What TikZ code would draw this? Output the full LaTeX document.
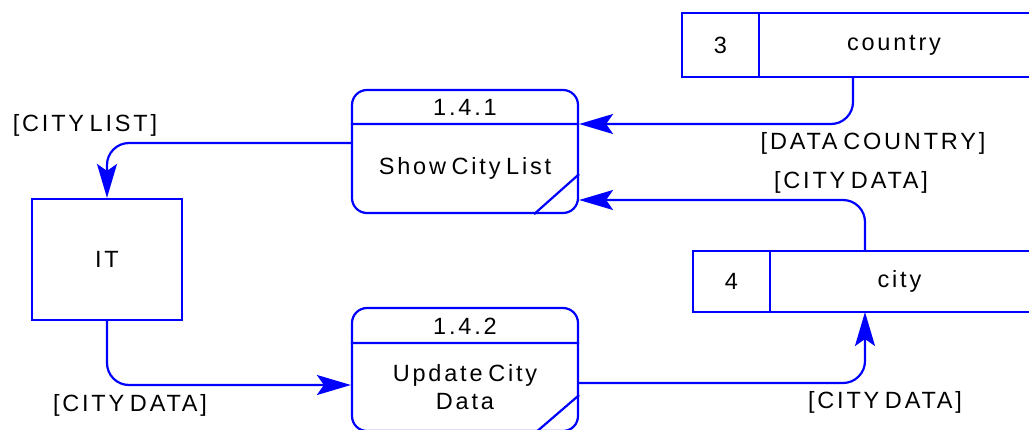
\documentclass[tikz,border=0pt]{standalone}
\usepackage{fontspec}
\setmainfont{Liberation Sans}[LetterSpace=12,WordSpace=0.6]
\usetikzlibrary{arrows.meta}

\begin{document}
\begin{tikzpicture}[
        x=1pt,y=-1pt,
        every node/.style={font=\fontsize{23.5pt}{28pt}\selectfont},
        process/.style={draw=blue,line width=2.2pt,rounded corners=15pt,minimum width=226pt,minimum height=123pt},
        entity/.style={draw=blue,line width=2.2pt,minimum width=150pt,minimum height=121pt},
        store id/.style={draw=blue,line width=2.2pt,outer sep=0pt,minimum width=77pt},
        store name/.style={inner sep=0pt,outer sep=0pt},
        edge line/.style={blue,line width=2.2pt},
        flow/.style={blue,line width=2.2pt,rounded corners=22pt,-{Stealth[length=34pt,width=20pt,inset=7pt]}},
        ]
    
    \useasboundingbox (0,0) rectangle (1029,429);
    
    \node[process] (p1) at (465,151.5) {};
    \node[process] (p2) at (465,369.5) {};
    \node[entity] (it) at (107,259.5) {IT};
    
    \node[store id,minimum height=64pt] (s3) at (720.5,45) {3};
    \node[store name,minimum width=270pt,minimum height=64pt] (country) at (894,45) {country};
    \node[store id,minimum height=61pt] (s4) at (731.5,281.5) {4};
    \node[store name,minimum width=259pt,minimum height=61pt] (city) at (899.5,281.5) {city};
    
    \draw[edge line] (s3.north east) -- (country.north east) (s3.south east) -- (country.south east);
    \draw[edge line] (s4.north east) -- (city.north east) (s4.south east) -- (city.south east);
    
    \node (p1num) at (465,107) {1.4.1};
    \node (p1name) at (465,168) {Show City List};
    \node (p2num) at (465,326) {1.4.2};
    \node[align=center] (p2name) at (465,387) {Update City\\Data};
    
    \draw[edge line] ([yshift=27.5pt]p1.west) -- ([yshift=27.5pt]p1.east)
        ([xshift=-45pt]p1.south east) -- ([yshift=40pt]p1.south east);
    \draw[edge line] ([yshift=26.5pt]p2.west) -- ([yshift=26.5pt]p2.east)
        ([xshift=-43pt]p2.south east) -- ([yshift=37pt]p2.south east);
    
    \draw[flow] ([xshift=-41pt]country.south) |- ([yshift=27.5pt]p1.east);
    \draw[flow] ([xshift=-34.5pt]city.north) |- ([yshift=-48.5pt]p1.east);
    \draw[flow] ([yshift=8.5pt]p1.west) -| (it.north);
    \draw[flow] (it.south) |- ([yshift=-15.5pt]p2.west);
    \draw[flow] ([yshift=-13.5pt]p2.east) -| ([xshift=-34.5pt]city.south);
    
    \node (lcountry) at (873,143) {[DATA COUNTRY]};
    \node (lcity1) at (851,182) {[CITY DATA]};
    \node (llist) at (85,125) {[CITY LIST]};
    \node (lcity2) at (130,405) {[CITY DATA]};
    \node (lcity3) at (885,402) {[CITY DATA]};
    \end{tikzpicture}
\end{document}
